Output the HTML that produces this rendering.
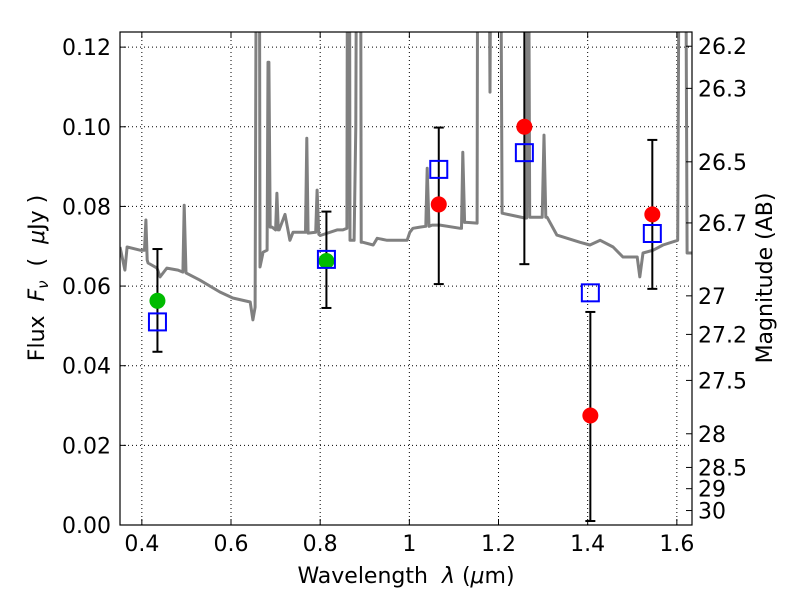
<!DOCTYPE html>
<html><head><meta charset="utf-8"><style>
body{margin:0;background:#fff;}
svg{font-family:"DejaVu Sans","Liberation Sans",sans-serif;}
</style></head><body>
<svg id="c" width="800" height="600"></svg>
<script>
const specLam=[0.351,0.362,0.367,0.396,0.406,0.409,0.412,0.414,0.434,0.441,0.456,0.481,0.492,0.495,0.499,0.530,0.575,0.604,0.643,0.649,0.654,0.658,0.660,0.663,0.665,0.672,0.681,0.683,0.685,0.688,0.692,0.700,0.703,0.706,0.708,0.721,0.732,0.739,0.767,0.770,0.773,0.790,0.793,0.797,0.800,0.838,0.851,0.860,0.862,0.865,0.867,0.876,0.880,0.883,0.885,0.890,0.892,0.896,0.919,0.928,0.950,0.995,1.001,1.008,1.024,1.037,1.040,1.044,1.051,1.069,1.114,1.117,1.120,1.124,1.129,1.152,1.154,1.176,1.181,1.185,1.203,1.208,1.259,1.263,1.266,1.270,1.275,1.298,1.302,1.306,1.309,1.331,1.383,1.405,1.428,1.457,1.479,1.511,1.517,1.524,1.547,1.569,1.602,1.607,1.618,1.623,1.636];
const specFlux=[0.0698,0.0640,0.0698,0.0690,0.0690,0.0766,0.0665,0.0658,0.0645,0.0623,0.0645,0.0640,0.0635,0.0803,0.0633,0.0615,0.0585,0.0570,0.0560,0.0515,0.0547,0.2,0.2,0.2,0.0648,0.0685,0.0690,0.1162,0.1162,0.0748,0.0748,0.0741,0.0833,0.0741,0.0741,0.0780,0.0715,0.0735,0.0735,0.0971,0.0733,0.0735,0.0841,0.0730,0.0727,0.0741,0.0741,0.0745,0.2,0.2,0.0715,0.0715,0.1000,0.2,0.2,0.2,0.0710,0.0710,0.0703,0.0720,0.0715,0.0715,0.0735,0.0745,0.0748,0.0750,0.0896,0.0750,0.0753,0.0753,0.0745,0.0745,0.0936,0.0760,0.0760,0.0758,0.2,0.2,0.1087,0.2,0.2,0.0783,0.0771,0.0771,0.2,0.0773,0.0773,0.0773,0.0979,0.0773,0.0773,0.0728,0.0710,0.0703,0.0715,0.0698,0.0673,0.0673,0.0623,0.0683,0.0690,0.0703,0.0715,0.2,0.2,0.0683,0.0683];
const photLam=[0.435,0.814,1.066,1.258,1.406,1.545];
const photFlux=[0.0563,0.0663,0.0805,0.100,0.0275,0.078];
const photColor=['#00bb00','#00bb00','#ff0000','#ff0000','#ff0000','#ff0000'];
const errLo=[0.0435,0.0545,0.0605,0.0655,0.001,0.0593];
const errHi=[0.0693,0.0787,0.0998,0.135,0.0535,0.0967];
const modelFlux=[0.051,0.0667,0.0893,0.0935,0.0583,0.0732];
const xTicks=[0.4,0.6,0.8,1.0,1.2,1.4,1.6];
const xTickLabels=['0.4','0.6','0.8','1','1.2','1.4','1.6'];
const yTicks=[0,0.02,0.04,0.06,0.08,0.10,0.12];
const yTickLabels=['0.00','0.02','0.04','0.06','0.08','0.10','0.12'];
const magTicks=[26.2,26.3,26.5,26.7,27,27.2,27.5,28,28.5,29,30];

const L=120,R=692,T=32,B=525;
const X0=0.351,X1=1.634,Y0=0,Y1=0.1238;
const sx=v=>L+(v-X0)/(X1-X0)*(R-L);
const sy=v=>B-(v-Y0)/(Y1-Y0)*(B-T);
const svg=document.getElementById('c');
const NS='http://www.w3.org/2000/svg';
function mk(tag,attrs,parent){const e=document.createElementNS(NS,tag);for(const k in attrs)e.setAttribute(k,attrs[k]);(parent||svg).appendChild(e);return e;}
const defs=mk('defs',{});const cp=mk('clipPath',{id:'clip'},defs);mk('rect',{x:L,y:T,width:R-L,height:B-T},cp);
xTicks.forEach(v=>{const g=mk('line',{x1:sx(v),x2:sx(v),y1:T,y2:B,stroke:'#000','stroke-dasharray':'1,3','stroke-width':1});

});
yTicks.forEach(v=>{const g=mk('line',{x1:L,x2:R,y1:sy(v),y2:sy(v),stroke:'#000','stroke-dasharray':'1,3','stroke-width':1});

});
let d='';specLam.forEach((l,i)=>{d+=(i?'L':'M')+sx(l).toFixed(1)+','+sy(specFlux[i]).toFixed(1);});
const sp=mk('path',{d:d,fill:'none',stroke:'#808080','stroke-width':3,'clip-path':'url(#clip)','stroke-linejoin':'round'});


photLam.forEach((l,i)=>{const g=mk('g',{'clip-path':'url(#clip)',stroke:'#000','stroke-width':2});


const x=sx(l);mk('line',{x1:x,x2:x,y1:sy(errLo[i]),y2:sy(errHi[i])},g);
mk('line',{x1:x-5,x2:x+5,y1:sy(errLo[i]),y2:sy(errLo[i])},g);
mk('line',{x1:x-5,x2:x+5,y1:sy(errHi[i]),y2:sy(errHi[i])},g);});
photLam.forEach((l,i)=>{const c=mk('circle',{cx:sx(l),cy:sy(photFlux[i]),r:8,fill:photColor[i]});

});
photLam.forEach((l,i)=>{const r=mk('rect',{x:sx(l)-8.5,y:sy(modelFlux[i])-8.5,width:17,height:17,fill:'none',stroke:'#0000ff','stroke-width':2});

});
const fr=mk('rect',{x:L,y:T,width:R-L,height:B-T,fill:'none',stroke:'#000','stroke-width':1.2});


xTicks.forEach((v,i)=>{const x=sx(v);mk('line',{x1:x,x2:x,y1:B,y2:B-6,stroke:'#000'});mk('line',{x1:x,x2:x,y1:T,y2:T+6,stroke:'#000'});
const t=mk('text',{x:x,y:B+26,'text-anchor':'middle','font-size':22});t.textContent=xTickLabels[i];

});
yTicks.forEach((v,i)=>{const y=sy(v);mk('line',{x1:L,x2:L+6,y1:y,y2:y,stroke:'#000'});
const t=mk('text',{x:L-9,y:y+8,'text-anchor':'end','font-size':22});t.textContent=yTickLabels[i];

});
magTicks.forEach(m=>{const y=sy(Math.pow(10,(23.9-m)/2.5));mk('line',{x1:R,x2:R-6,y1:y,y2:y,stroke:'#000'});
const t=mk('text',{x:R+6,y:y+8,'font-size':22});t.textContent=String(m);

});
</script>
<svg width="800" height="600" style="position:absolute;left:0;top:0;font-family:'DejaVu Sans','Liberation Sans',sans-serif">
<text x="406" y="583" text-anchor="middle" font-size="22" xml:space="preserve">Wavelength  <tspan font-style="italic">λ</tspan> (<tspan font-style="italic">μ</tspan>m)</text>
<text transform="translate(44,278) rotate(-90)" text-anchor="middle" font-size="22" xml:space="preserve">Flux  <tspan font-style="italic">F<tspan font-size="15" dy="4">ν</tspan></tspan><tspan dy="-4">  (  </tspan><tspan font-style="italic">μ</tspan>Jy )</text>
<text transform="translate(772,278) rotate(-90)" text-anchor="middle" font-size="22">Magnitude (AB)</text>
</svg>
</body></html>
